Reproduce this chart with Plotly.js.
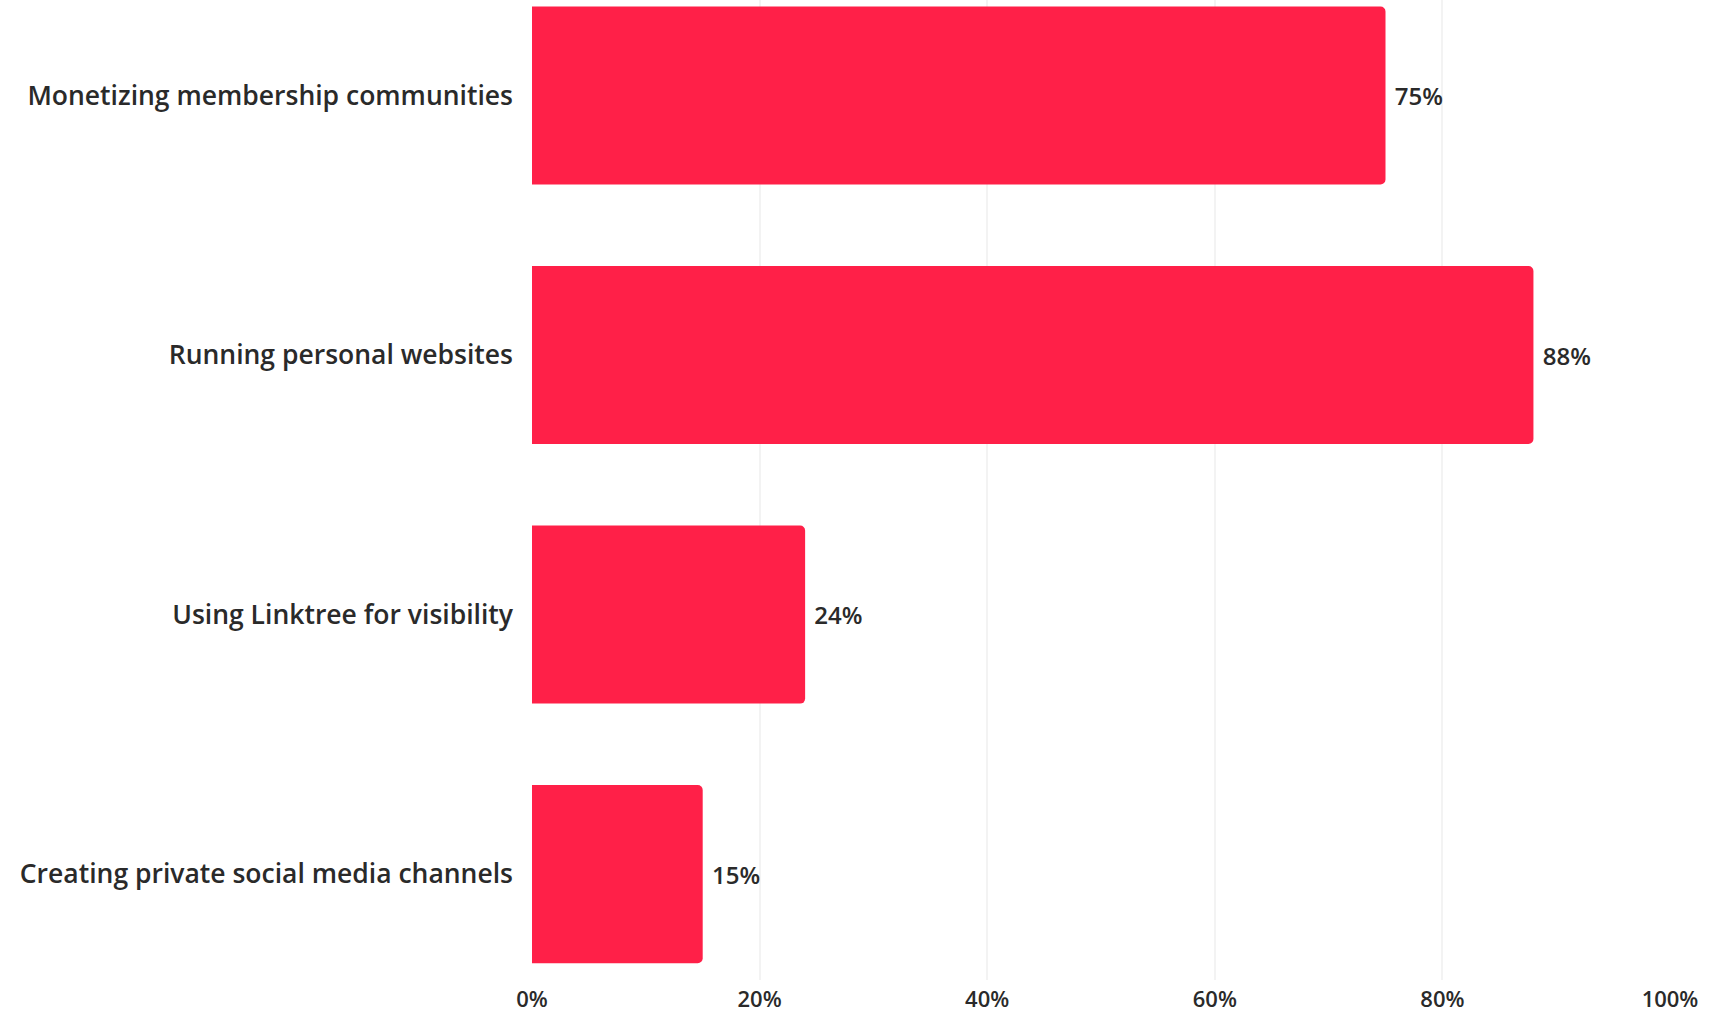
<!DOCTYPE html>
<html>
<head>
<meta charset="utf-8">
<script src="https://cdn.plot.ly/plotly-3.0.1.min.js"></script>
<style>html,body{margin:0;padding:0;background:#fff;}#chart{width:1718px;height:1018px;}</style>
</head>
<body>
<div id="chart"></div>
<script>
const categories = [
  "Monetizing membership communities",
  "Running personal websites",
  "Using Linktree for visibility",
  "Creating private social media channels"
];
const values = [75, 88, 24, 15];
const tickValues = [0, 20, 40, 60, 80, 100];
const tickLabels = ["0%", "20%", "40%", "60%", "80%", "100%"];

const trace = {
  type: "bar",
  orientation: "h",
  x: values,
  y: categories,
  marker: { color: "rgb(255,32,72)", cornerradius: 5, line: { width: 0 } },
  text: values.map(v => v + "%"),
  texttemplate: " %{text}",
  textposition: "outside",
  cliponaxis: false,
  textfont: { family: "Open Sans, sans-serif", size: 24, weight: 600, color: "#2a2a2a" },
  hoverinfo: "none"
};

const layout = {
  width: 1718,
  height: 1018,
  margin: { l: 532, r: 48, t: 0, b: 38 },
  paper_bgcolor: "#fff",
  plot_bgcolor: "#fff",
  bargap: 0.314,
  showlegend: false,
  font: { family: "Open Sans, sans-serif", color: "#2a2a2a" },
  xaxis: {
    range: [0, 100],
    tickvals: tickValues,
    ticktext: tickLabels,
    showgrid: true,
    gridcolor: "#f3f3f3",
    gridwidth: 2,
    zeroline: false,
    showline: false,
    ticks: "",
    ticklabelstandoff: 4,
    tickfont: { family: "Open Sans, sans-serif", size: 22, weight: 600, color: "#2a2a2a" },
    fixedrange: true
  },
  yaxis: {
    type: "category",
    range: [3.408, -0.368],
    showgrid: false,
    zeroline: false,
    showline: false,
    ticks: "",
    ticklabelstandoff: 18,
    tickfont: { family: "Open Sans, sans-serif", size: 26.5, weight: 600, color: "#2a2a2a" },
    fixedrange: true
  }
};

Plotly.newPlot("chart", [trace], layout, { displayModeBar: false, staticPlot: true });
</script>
</body>
</html>
